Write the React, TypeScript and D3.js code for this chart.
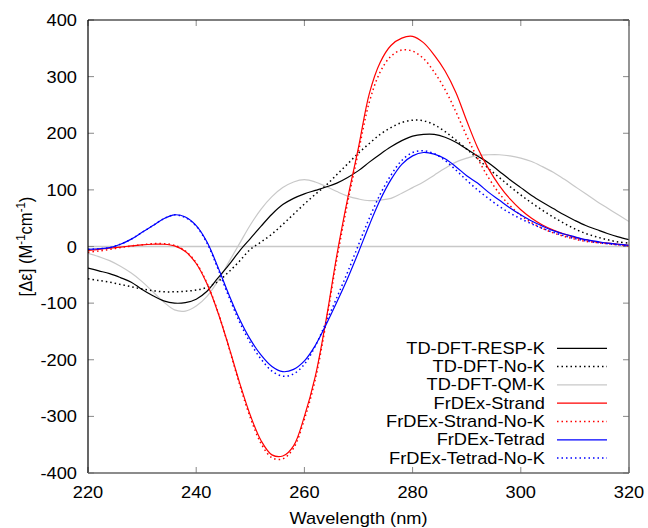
import React from "react";
import * as d3 from "d3";

const wavelengths = d3.range(220, 321, 2);

const respK = [-38,-43,-48,-55,-63,-76,-87,-96,-100,-99,-93,-79,-56,-33,-8,14,36,57,74,85,93,99,105,112,122,134,149,163,176,187,195,198,198,193,184,172,160,148,133,118,104,90,78,67,56,46,37,30,23,17,12];
const noK = [-57,-60,-63,-67,-71,-75,-78,-80,-80,-79,-77,-72,-62,-45,-26,-5,8,22,39,57,75,92,108,127,146,165,182,198,210,219,223,222,215,203,188,172,155,138,122,106,91,77,64,52,41,31,23,17,12,8,6];
const qmK = [-12,-18,-25,-35,-47,-62,-80,-98,-112,-114,-105,-88,-61,-28,5,38,66,88,104,114,118,114,106,97,89,84,81,82,85,94,104,114,126,138,149,156,161,162,162,160,156,150,141,131,119,106,93,80,68,56,44];
const strand = [-7,-5,-3,-1,1,3,4,4,1,-9,-30,-66,-116,-176,-240,-298,-343,-368,-370,-352,-300,-230,-130,-15,85,175,270,325,355,368,371,360,338,310,272,222,175,138,108,84,65,50,38,29,22,16,12,8,6,4,2];
const strandNoK = [-10,-8,-5,-2,1,3,5,5,2,-8,-29,-65,-115,-177,-243,-302,-348,-373,-375,-356,-305,-235,-135,-22,78,168,255,308,336,347,345,332,308,277,238,195,156,122,94,72,55,42,32,24,18,13,9,7,5,3,1];
const tetrad = [-5,-4,-2,4,13,25,37,49,56,52,37,8,-36,-84,-128,-164,-192,-212,-221,-217,-202,-175,-138,-98,-56,-10,38,82,118,145,160,166,163,155,141,125,112,96,82,68,56,45,36,28,22,17,12,9,6,4,2];
const tetradNoK = [-5,-4,-2,4,13,25,37,49,56,51,36,6,-39,-88,-133,-170,-199,-220,-229,-225,-208,-176,-134,-90,-45,3,50,92,126,152,166,169,164,152,135,117,100,85,71,59,49,40,32,25,19,14,10,7,5,3,1];

const seriesNames = ["TD-DFT-RESP-K","TD-DFT-No-K","TD-DFT-QM-K","FrDEx-Strand","FrDEx-Strand-No-K","FrDEx-Tetrad","FrDEx-Tetrad-No-K"];
const seriesValues = [respK, noK, qmK, strand, strandNoK, tetrad, tetradNoK];
const seriesColors = ["#000000","#000000","#c8c8c8","#ff0000","#ff0000","#0000ff","#0000ff"];
const seriesDashed = [false,true,false,false,true,false,true];

const xTicks = [220,240,260,280,300,320];
const yTicks = [-400,-300,-200,-100,0,100,200,300,400];

const SX = 1.14;

function T({ x, y, anchor, children }: { x: number; y: number; anchor: string; children: React.ReactNode }) {
  return (
    <text transform={`translate(${x},${y}) scale(${SX},1)`} textAnchor={anchor} fontSize={16} fill="#000">
      {children}
    </text>
  );
}

export default function App() {
  const W = 648, H = 528;
  const left = 88, right = 629, top = 20, bottom = 473;
  const x = d3.scaleLinear().domain([220, 320]).range([left, right]);
  const y = d3.scaleLinear().domain([-400, 400]).range([bottom, top]);
  const line = d3.line<number>()
    .x((_, i) => x(wavelengths[i]))
    .y((d) => y(d))
    .curve(d3.curveCatmullRom.alpha(0.5));
  const font = "'Liberation Sans', Arial, Helvetica, sans-serif";
  const legendX = 545;
  const legendY0 = 348.3;
  const legendDy = 18.3;
  const drawOrder = [2, 0, 1, 3, 4, 5, 6];
  return (
    <svg width={W} height={H} style={{ position: "fixed", left: 0, top: 0, background: "#fff" }} fontFamily={font}>
      <defs>
        <clipPath id="plotclip">
          <rect x={left} y={top} width={right - left} height={bottom - top} />
        </clipPath>
      </defs>
      <rect x={0} y={0} width={W} height={H} fill="#fff" />
      <line x1={left} x2={right} y1={y(0)} y2={y(0)} stroke="#c8c8c8" strokeWidth={1.5} />
      {xTicks.map((t) => (
        <g key={"xt" + t}>
          <line x1={x(t)} x2={x(t)} y1={bottom} y2={bottom - 6} stroke="#888" strokeWidth={1} />
          <line x1={x(t)} x2={x(t)} y1={top} y2={top + 6} stroke="#888" strokeWidth={1} />
          <T x={x(t)} y={498} anchor="middle">{t}</T>
        </g>
      ))}
      {yTicks.map((t) => (
        <g key={"yt" + t}>
          <line x1={left} x2={left + 6} y1={y(t)} y2={y(t)} stroke="#888" strokeWidth={1} />
          <line x1={right} x2={right - 6} y1={y(t)} y2={y(t)} stroke="#888" strokeWidth={1} />
          <T x={77} y={y(t) + 6} anchor="end">{t}</T>
        </g>
      ))}
      <g clipPath="url(#plotclip)">
        {drawOrder.map((k) => (
          <path key={"s" + k} d={line(seriesValues[k]) || ""} fill="none" stroke={seriesColors[k]}
            strokeWidth={seriesDashed[k] ? 1.5 : 1.2}
            strokeDasharray={seriesDashed[k] ? "1.5,3" : undefined} />
        ))}
      </g>
      <line x1={left} x2={right} y1={top} y2={top} stroke="#000" strokeWidth={1.2} />
      <line x1={left} x2={left} y1={top} y2={bottom} stroke="#000" strokeWidth={1.2} />
      <line x1={left} x2={right} y1={bottom} y2={bottom} stroke="#666" strokeWidth={1.4} />
      <line x1={right} x2={right} y1={top} y2={bottom} stroke="#666" strokeWidth={1.4} />
      {seriesNames.map((n, i) => (
        <g key={"lg" + i}>
          <T x={legendX} y={legendY0 + i * legendDy + 5.5} anchor="end">{n}</T>
          <line x1={557} x2={607} y1={legendY0 + i * legendDy} y2={legendY0 + i * legendDy}
            stroke={seriesColors[i]} strokeWidth={seriesDashed[i] ? 1.5 : 1.2}
            strokeDasharray={seriesDashed[i] ? "1.5,3" : undefined} />
        </g>
      ))}
      <T x={(left + right) / 2} y={524} anchor="middle">Wavelength (nm)</T>
      <text transform={`translate(32,${(top + bottom) / 2}) rotate(-90) scale(1.04,${SX})`} textAnchor="middle" fontSize={16} fill="#000">
        [Δε] (M<tspan dy={-6} fontSize={11}>-1</tspan><tspan dy={6}>cm</tspan><tspan dy={-6} fontSize={11}>-1</tspan><tspan dy={6}>)</tspan>
      </text>
    </svg>
  );
}
